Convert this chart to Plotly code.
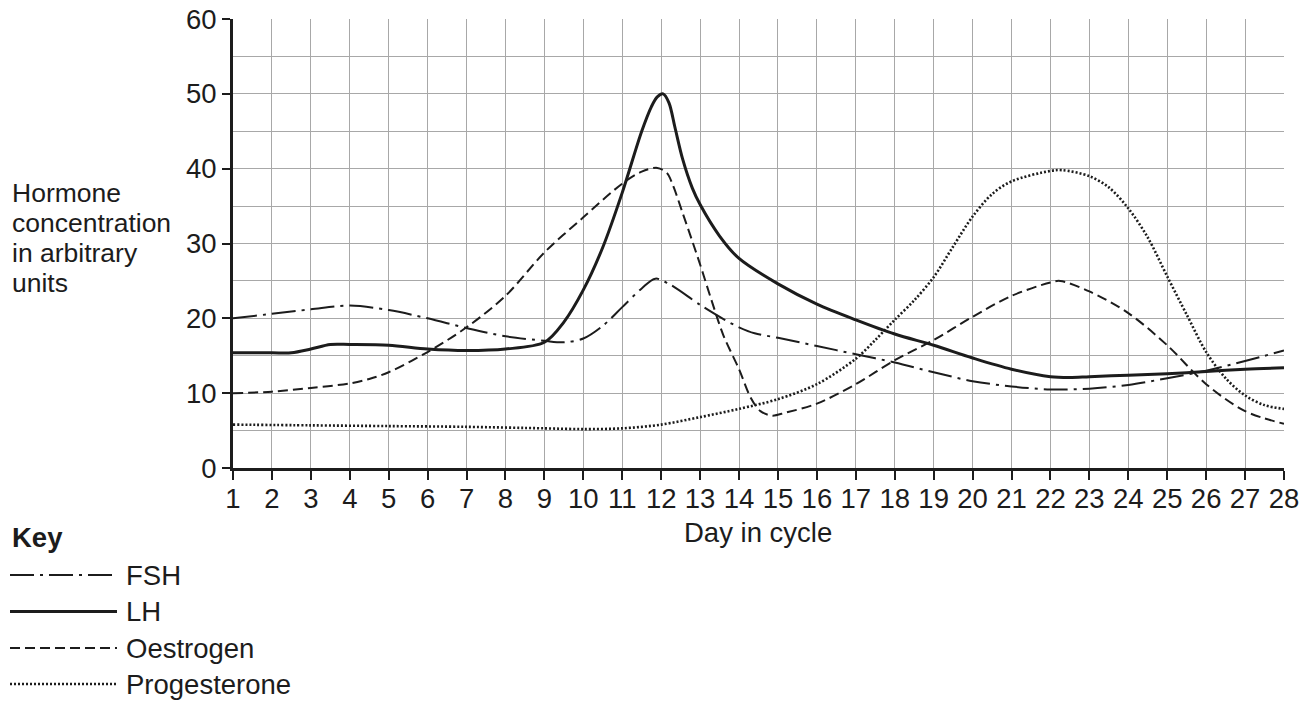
import plotly.graph_objects as go

# ---------------- data ----------------
fsh_days = [1, 2, 3, 4, 5, 6, 7, 8, 9, 9.5, 10, 10.5, 11, 11.5, 11.85, 12.2, 13, 13.6, 14, 14.4,
            15, 16, 17, 18, 19, 20, 21, 22, 23, 24, 25, 26, 27, 28]
fsh_vals = [20.0, 20.6, 21.2, 21.7, 21.1, 20.0, 18.7, 17.6, 17.0, 16.8, 17.3, 19.0, 21.5, 24.0,
            25.3, 24.6, 21.8, 19.9, 18.8, 18.0, 17.4, 16.3, 15.2, 14.1, 12.8, 11.6, 10.9, 10.5,
            10.6, 11.1, 12.0, 13.0, 14.3, 15.7]

lh_days = [1, 2, 2.5, 3, 3.5, 4, 5, 6, 7, 8, 9, 9.5, 10, 10.5, 11, 11.5, 11.75, 11.9, 12.05,
           12.2, 12.35, 12.55, 12.8, 13, 13.5, 14, 15, 16, 17, 18, 19, 20, 21, 22, 22.5, 23,
           24, 25, 26, 27, 28]
lh_vals = [15.4, 15.4, 15.4, 15.9, 16.5, 16.5, 16.4, 15.9, 15.7, 15.9, 16.8, 19.5, 23.8, 29.5,
           36.8, 45.0, 48.3, 49.6, 50.0, 48.8, 45.6, 41.3, 37.4, 35.2, 31.0, 28.0, 24.6, 21.9,
           19.8, 17.9, 16.4, 14.7, 13.2, 12.2, 12.1, 12.2, 12.4, 12.6, 12.9, 13.2, 13.4]

oes_days = [1, 2, 3, 4, 4.5, 5, 6, 7, 8, 9, 10, 11, 11.5, 11.9, 12.15, 12.3, 12.55, 12.8, 13,
            13.3, 13.6, 14, 14.3, 14.55, 14.85, 15.2, 16, 17, 18, 19, 20, 21, 22, 22.25, 23,
            24, 25, 26, 27, 28]
oes_vals = [10.0, 10.2, 10.7, 11.3, 11.9, 12.8, 15.5, 18.8, 23.0, 28.8, 33.5, 38.0, 39.6, 40.1,
            39.4, 37.8, 34.1, 30.3, 27.2, 22.3, 17.7, 13.2, 9.4, 7.6, 7.0, 7.4, 8.6, 11.2, 14.4,
            17.1, 20.2, 23.0, 24.8, 25.0, 23.6, 20.7, 16.4, 11.2, 7.6, 5.9]

pro_days = [1, 3, 5, 7, 9, 10, 11, 12, 13, 14, 15, 16, 17, 17.5, 18, 18.5, 19, 19.5, 20, 20.5,
            21, 22, 22.3, 23, 23.5, 24, 24.5, 25, 25.5, 26, 26.5, 27, 27.5, 28]
pro_vals = [5.8, 5.7, 5.6, 5.5, 5.3, 5.2, 5.3, 5.8, 6.8, 7.9, 9.2, 11.2, 14.6, 17.1, 19.8, 22.4,
            25.5, 29.6, 33.6, 36.6, 38.3, 39.7, 39.8, 39.0, 37.5, 34.7, 30.8, 25.6, 20.5, 15.5,
            12.0, 9.7, 8.4, 7.9]

series_names = ["FSH", "LH", "Oestrogen", "Progesterone"]
x_ticks = list(range(1, 29))
y_ticks = [0, 10, 20, 30, 40, 50, 60]
y_title_lines = ["Hormone", "concentration", "in arbitrary", "units"]

# ---------------- styling ----------------
FONT = "Liberation Sans, Arial, sans-serif"
FS = 27.5
FS_YT = 26.5
INK = "#1c1c1c"
GRID = "#a8a8a8"
styles = {
    "FSH": dict(color=INK, width=2, dash="24px,6px,3px,6px"),
    "LH": dict(color=INK, width=3, dash="solid"),
    "Oestrogen": dict(color=INK, width=2, dash="10px,5px"),
    "Progesterone": dict(color=INK, width=2.6, dash="2px,2px"),
}
data = {
    "FSH": (fsh_days, fsh_vals),
    "LH": (lh_days, lh_vals),
    "Oestrogen": (oes_days, oes_vals),
    "Progesterone": (pro_days, pro_vals),
}

fig = go.Figure()
for name in series_names:
    xs, ys = data[name]
    st = styles[name]
    fig.add_trace(go.Scatter(
        x=xs, y=ys, mode="lines", name=name, showlegend=False,
        line=dict(color=st["color"], width=st["width"], dash=st["dash"],
                  shape="spline", smoothing=0.9),
        hoverinfo="skip"))

L, R, T, B = 233, 27, 19, 234
W, H = 1311, 702
pw, ph = W - L - R, H - T - B


def px_x(p):
    return (p - L) / pw


def px_y(p):
    return (H - B - p) / ph


fig.update_layout(
    width=W, height=H,
    margin=dict(l=L, r=R, t=T, b=B, pad=0, autoexpand=False),
    paper_bgcolor="white", plot_bgcolor="white",
    font=dict(family=FONT, size=FS, color=INK),
    showlegend=False,
)
fig.update_xaxes(
    range=[1, 28], tickvals=x_ticks, ticktext=[str(v) for v in x_ticks],
    showgrid=True, gridcolor=GRID, gridwidth=1.3,
    showline=True, linecolor=INK, linewidth=3,
    ticks="outside", ticklen=9, tickwidth=1.5, tickcolor=INK,
    tickfont=dict(size=FS, family=FONT, color=INK), zeroline=False,
    ticklabelstandoff=-5, automargin=False,
)
fig.update_yaxes(
    range=[0, 60], tickvals=y_ticks, ticktext=[str(v) for v in y_ticks],
    showgrid=True, gridcolor=GRID, gridwidth=1.3,
    minor=dict(dtick=5, tick0=0, showgrid=True, gridcolor=GRID, gridwidth=1.3, ticks=""),
    showline=True, linecolor=INK, linewidth=3,
    ticks="outside", ticklen=8, tickwidth=1.5, tickcolor=INK,
    tickfont=dict(size=FS, family=FONT, color=INK), zeroline=False,
    ticklabelstandoff=0, automargin=False,
)

# y-axis title
for i, line in enumerate(y_title_lines):
    fig.add_annotation(
        text=line, xref="paper", yref="paper", x=px_x(10), y=px_y(193 + 30 * i),
        xanchor="left", yanchor="middle", align="left", showarrow=False,
        font=dict(size=FS_YT, family=FONT, color=INK))
fig.add_annotation(
    text="Day in cycle", xref="paper", yref="paper",
    x=px_x(758), y=px_y(532), xanchor="center", yanchor="middle",
    showarrow=False, font=dict(size=FS, family=FONT, color=INK))

# key
fig.add_annotation(
    text="<b>Key</b>", xref="paper", yref="paper", x=px_x(10), y=px_y(537),
    xanchor="left", yanchor="middle", showarrow=False,
    font=dict(size=FS, family=FONT, color=INK))
key_rows = [575, 611.5, 648, 684]
for name, row in zip(series_names, key_rows):
    st = styles[name]
    fig.add_shape(type="line", xref="paper", yref="paper",
                  x0=px_x(10), x1=px_x(117), y0=px_y(row), y1=px_y(row),
                  line=dict(color=st["color"], width=st["width"], dash=st["dash"]))
    fig.add_annotation(
        text=name, xref="paper", yref="paper", x=px_x(124), y=px_y(row),
        xanchor="left", yanchor="middle", showarrow=False,
        font=dict(size=FS, family=FONT, color=INK))

fig.write_html(
    "out.html",
    config={"displayModeBar": False},
    post_script="document.body.style.margin='0';document.body.style.overflow='hidden';",
)
